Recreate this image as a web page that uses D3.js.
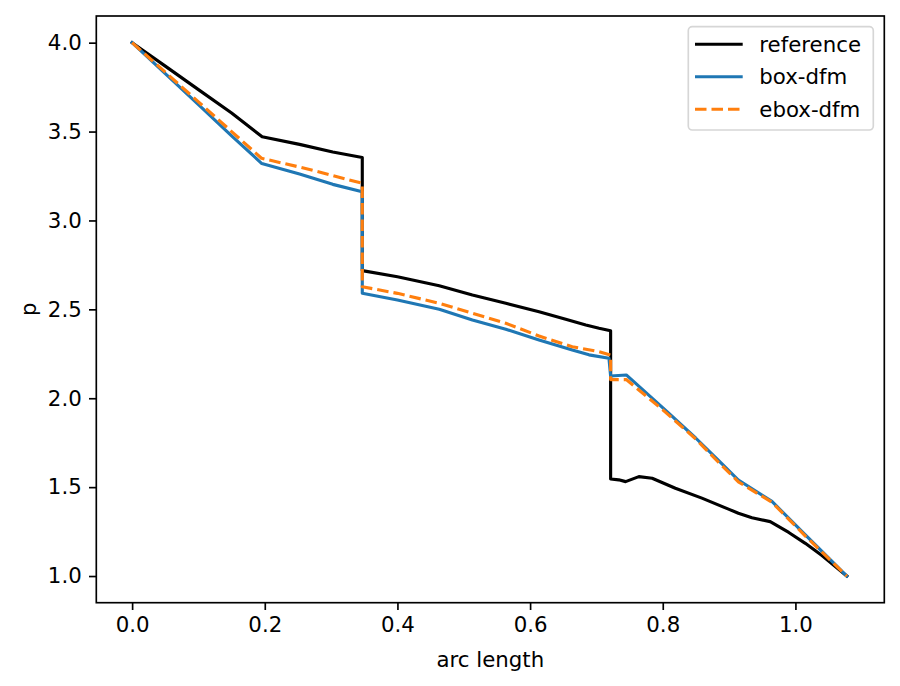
<!DOCTYPE html>
<html>
<head>
<meta charset="utf-8">
<script src="https://cdn.jsdelivr.net/npm/d3@7"></script>
<style>
  body { margin: 0; background: #fff; }
  text { font-family: "DejaVu Sans", sans-serif; }
</style>
</head>
<body>
<div id="chart"></div>
<script>
// values
const refX = [0, 0.05, 0.10, 0.15, 0.196, 0.2524, 0.3025, 0.347, 0.347, 0.40, 0.463, 0.513, 0.5634, 0.6135, 0.6537, 0.684, 0.704, 0.7214,
    0.7214, 0.7336, 0.744, 0.764, 0.784, 0.819, 0.859, 0.90, 0.914, 0.9345, 0.962, 0.99, 1.0149, 1.04, 1.0775]
const refY = [4.0, 3.868, 3.736, 3.604, 3.471, 3.428, 3.385, 3.354, 2.718, 2.683, 2.633, 2.581, 2.534, 2.487, 2.444, 2.412, 2.394, 2.38,
    1.546, 1.541, 1.531, 1.559, 1.55, 1.494, 1.438, 1.375, 1.353, 1.328, 1.306, 1.245, 1.184, 1.115, 1.0]

const boxX = [0, 0.05, 0.10, 0.15, 0.1955, 0.2524, 0.3025, 0.347, 0.347, 0.40, 0.463, 0.513, 0.5634, 0.6135, 0.6636, 0.6888, 0.7189,
    0.7214, 0.745, 0.809, 0.85, 0.884, 0.914, 0.9646, 1.015, 1.0775]
const boxY = [4.0, 3.826, 3.651, 3.476, 3.32, 3.261, 3.203, 3.162, 2.591, 2.553, 2.50, 2.44, 2.388, 2.328, 2.272, 2.244, 2.225,
    2.125, 2.131, 1.916, 1.775, 1.65, 1.54, 1.42, 1.231, 1.0]

const eboxX = [0, 0.05, 0.10, 0.15, 0.195, 0.255, 0.285, 0.335, 0.347, 0.347, 0.40, 0.463, 0.513, 0.5634, 0.6135, 0.6636, 0.704, 0.7214,
    0.7214, 0.745, 0.80, 0.85, 0.884, 0.914, 0.9646, 1.015, 1.0775]
const eboxY = [4.0, 3.834, 3.667, 3.50, 3.35, 3.298, 3.27, 3.22, 3.209, 2.627, 2.59, 2.534, 2.478, 2.422, 2.35, 2.29, 2.262, 2.243,
    2.105, 2.105, 1.935, 1.77, 1.64, 1.53, 1.415, 1.225, 1.0]

const xTicks = [0.0, 0.2, 0.4, 0.6, 0.8, 1.0]
const yTicks = [1.0, 1.5, 2.0, 2.5, 3.0, 3.5, 4.0]
const seriesNames = ["reference", "box-dfm", "ebox-dfm"]
const seriesColors = ["#000000", "#1f77b4", "#ff7f0e"]

const W = 900, H = 686
const axLeft = 96.3, axRight = 884.3, axTop = 16, axBottom = 602.7
const fs = 21.3, lw = 3.125, tickLen = 7.3

const svg = d3.select("#chart").append("svg")
    .attr("width", W)
    .attr("height", H)

// matplotlib style 5% margins
const xScale = d3.scaleLinear().domain([-0.054, 1.134]).range([axLeft, axRight])
const yScale = d3.scaleLinear().domain([0.85, 4.15]).range([axBottom, axTop])

const series = [
    { name: seriesNames[0], color: seriesColors[0], dash: null, pts: refX.map((x, i) => [x, refY[i]]) },
    { name: seriesNames[1], color: seriesColors[1], dash: null, pts: boxX.map((x, i) => [x, boxY[i]]) },
    { name: seriesNames[2], color: seriesColors[2], dash: "11.5,5", pts: eboxX.map((x, i) => [x, eboxY[i]]) }
]

const line = d3.line().x(d => xScale(d[0])).y(d => yScale(d[1]))

svg.append("defs").append("clipPath").attr("id", "clip")
    .append("rect").attr("x", axLeft).attr("y", axTop).attr("width", axRight - axLeft).attr("height", axBottom - axTop)

const plot = svg.append("g").attr("clip-path", "url(#clip)")
series.forEach(s => {
    plot.append("path")
        .attr("d", line(s.pts))
        .attr("fill", "none")
        .attr("stroke", s.color)
        .attr("stroke-width", lw)
        .attr("stroke-linejoin", "round")
        .attr("stroke-linecap", s.dash ? "butt" : "square")
        .attr("stroke-dasharray", s.dash)
})

// axes
const xAxis = svg.append("g")
    .attr("transform", "translate(0," + axBottom + ")")
    .call(d3.axisBottom(xScale).tickValues(xTicks).tickFormat(d3.format(".1f")).tickSize(tickLen).tickPadding(7.3))
const yAxis = svg.append("g")
    .attr("transform", "translate(" + axLeft + ",0)")
    .call(d3.axisLeft(yScale).tickValues(yTicks).tickFormat(d3.format(".1f")).tickSize(tickLen).tickPadding(7.3))

;[xAxis, yAxis].forEach(a => {
    a.select(".domain").remove()
    a.selectAll(".tick line").attr("stroke", "#000").attr("stroke-width", 1.67)
    a.selectAll(".tick text").attr("font-size", fs).attr("fill", "#000")
})

svg.append("rect")
    .attr("x", axLeft).attr("y", axTop)
    .attr("width", axRight - axLeft).attr("height", axBottom - axTop)
    .attr("fill", "none").attr("stroke", "#000").attr("stroke-width", 1.67)

svg.append("text")
    .attr("x", (axLeft + axRight) / 2)
    .attr("y", 667)
    .attr("text-anchor", "middle")
    .attr("font-size", fs)
    .text("arc length")

svg.append("text")
    .attr("transform", "translate(36," + (axTop + axBottom) / 2 + ") rotate(-90)")
    .attr("text-anchor", "middle")
    .attr("font-size", fs)
    .text("p")

// legend
const lg = svg.append("g")
lg.append("rect")
    .attr("x", 688.3).attr("y", 26.7)
    .attr("width", 185).attr("height", 103.3)
    .attr("rx", 4)
    .attr("fill", "#fff").attr("fill-opacity", 0.8)
    .attr("stroke", "#d6d6d6").attr("stroke-width", 1.67)

series.forEach((s, i) => {
    const y = 44.3 + i * 32.5
    lg.append("line")
        .attr("x1", 695).attr("x2", 742.7)
        .attr("y1", y).attr("y2", y)
        .attr("stroke", s.color)
        .attr("stroke-width", lw)
        .attr("stroke-dasharray", s.dash)
    lg.append("text")
        .attr("x", 759.3)
        .attr("y", y)
        .attr("dy", "0.36em")
        .attr("font-size", fs)
        .text(s.name)
})
</script>
</body>
</html>
